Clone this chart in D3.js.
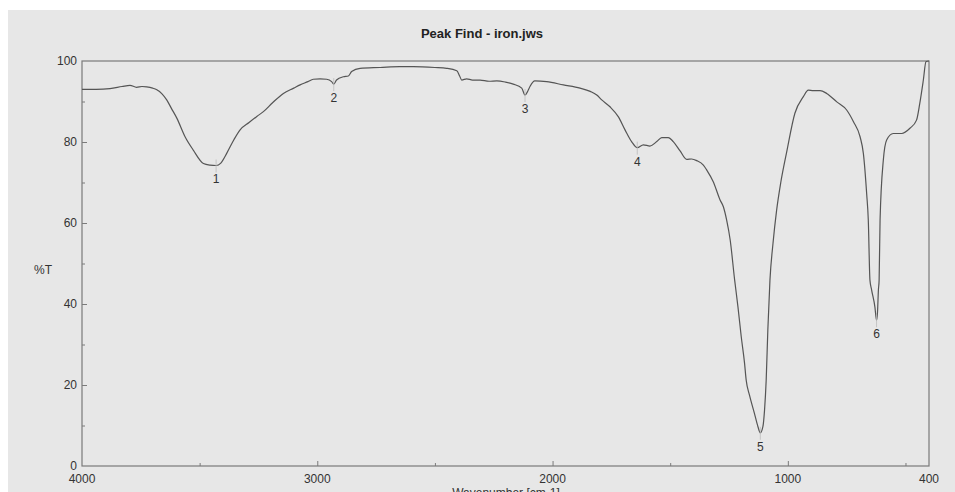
<!DOCTYPE html>
<html>
<head>
<meta charset="utf-8">
<script src="https://cdn.jsdelivr.net/npm/d3@7"></script>
<style>
  html, body { margin: 0; padding: 0; background: #fff; }
  svg { display: block; font-family: "Liberation Sans", Arial, sans-serif; }
</style>
</head>
<body>
<div id="chart"></div>
<script>
// IR spectrum (wavenumber cm-1, %T)
const wavenumber = [4000, 3940, 3881, 3830, 3796, 3768, 3745, 3725, 3700, 3682, 3660, 3640, 3620, 3597, 3562, 3527, 3484, 3456, 3430, 3410, 3385, 3355, 3328, 3290, 3257, 3229, 3190, 3144, 3100, 3073, 3040, 3017, 2988, 2960, 2939, 2930, 2918, 2889, 2868, 2854, 2818, 2733, 2650, 2592, 2500, 2450, 2407, 2395, 2386, 2365, 2340, 2308, 2270, 2237, 2200, 2167, 2131, 2117, 2105, 2096, 2075, 2025, 1954, 1883, 1840, 1812, 1791, 1756, 1720, 1692, 1664, 1640, 1614, 1586, 1557, 1536, 1508, 1487, 1458, 1430, 1409, 1387, 1359, 1345, 1317, 1288, 1274, 1260, 1245, 1226, 1212, 1198, 1184, 1177, 1163, 1142, 1127, 1117, 1106, 1099, 1092, 1085, 1076, 1063, 1048, 1030, 1005, 970, 934, 913, 892, 863, 835, 792, 750, 721, 693, 679, 665, 658, 651, 644, 630, 623, 619, 615, 612, 608, 594, 580, 552, 516, 481, 453, 439, 424, 413, 400];
const transmittance = [93.0, 93.0, 93.2, 93.7, 94.0, 93.5, 93.7, 93.6, 93.3, 92.9, 91.9, 90.4, 88.3, 85.9, 81.3, 78.0, 74.7, 74.3, 74.2, 74.8, 77.2, 80.5, 83.0, 84.8, 86.3, 87.5, 89.7, 92.0, 93.3, 94.1, 94.9, 95.5, 95.6, 95.5, 94.9, 94.3, 95.3, 96.1, 96.3, 97.4, 98.2, 98.4, 98.6, 98.6, 98.4, 98.2, 97.6, 96.3, 95.3, 95.6, 95.3, 95.3, 95.0, 95.1, 94.8, 94.3, 93.3, 91.6, 92.6, 93.7, 95.1, 94.9, 94.1, 93.3, 92.5, 91.6, 90.4, 88.7, 86.2, 83.0, 80.1, 78.6, 79.3, 79.0, 80.1, 81.1, 81.1, 80.1, 77.8, 75.7, 75.8, 75.4, 74.3, 73.1, 70.2, 65.7, 64.0, 60.7, 55.8, 45.9, 39.3, 31.9, 25.4, 21.2, 17.5, 13.0, 9.7, 8.2, 9.7, 13.8, 21.2, 33.6, 45.9, 55.0, 63.0, 70.0, 77.5, 87.1, 91.2, 92.8, 92.7, 92.7, 92.0, 89.9, 87.9, 85.0, 81.3, 77.2, 67.3, 60.7, 45.9, 43.5, 39.3, 36.0, 37.8, 43.5, 45.9, 60.7, 75.6, 80.5, 82.1, 82.1, 83.4, 85.4, 89.6, 95.3, 99.8, 100];

const peakLabels = ["1", "2", "3", "4", "5", "6"];
const peakWavenumber = [3430, 2930, 2117, 1640, 1117, 623];

const xTicks = [4000, 3000, 2000, 1000, 400];
const xMinorTicks = [3500, 2500, 1500, 500];
const yTicks = [0, 20, 40, 60, 80, 100];
const yMinorTicks = [10, 30, 50, 70, 90];

const W = 955, H = 492;
const plotLeft = 82, plotRight = 929, plotTop = 61, plotBottom = 466;
const axisColor = "#7a7a7a";

const svg = d3.select("#chart").append("svg")
    .attr("width", W)
    .attr("height", H);

// photographed paper: white border, grey sheet
svg.append("rect").attr("x", 0).attr("y", 0).attr("width", W).attr("height", H).attr("fill", "#ffffff");
svg.append("rect").attr("x", 8).attr("y", 10).attr("width", W - 8).attr("height", H - 10).attr("fill", "#e7e7e7");

const x = d3.scaleLinear().domain([4000, 400]).range([plotLeft, plotRight]);
const y = d3.scaleLinear().domain([0, 100]).range([plotBottom, plotTop]);

svg.append("text")
    .attr("x", 482)
    .attr("y", 37.5)
    .attr("text-anchor", "middle")
    .style("font-size", "13px")
    .style("font-weight", "bold")
    .attr("fill", "#222")
    .text("Peak Find - iron.jws");

// frame
svg.append("rect")
    .attr("x", plotLeft).attr("y", plotTop)
    .attr("width", plotRight - plotLeft).attr("height", plotBottom - plotTop)
    .attr("fill", "none")
    .attr("stroke", axisColor)
    .attr("stroke-width", 1.2);

// ticks point inward like the instrument printout
svg.append("g")
    .attr("transform", `translate(0,${plotBottom})`)
    .call(d3.axisTop(x).tickValues(xTicks.filter(d => d !== 4000 && d !== 400)).tickSize(5).tickFormat(""))
    .select(".domain").remove();
svg.append("g")
    .attr("transform", `translate(0,${plotBottom})`)
    .call(d3.axisTop(x).tickValues(xMinorTicks).tickSize(3).tickFormat(""))
    .select(".domain").remove();

svg.append("g")
    .attr("transform", `translate(${plotLeft},0)`)
    .call(d3.axisRight(y).tickValues(yTicks.filter(d => d > 0 && d < 100)).tickSize(5).tickFormat(""))
    .select(".domain").remove();
svg.append("g")
    .attr("transform", `translate(${plotLeft},0)`)
    .call(d3.axisRight(y).tickValues(yMinorTicks).tickSize(3).tickFormat(""))
    .select(".domain").remove();

svg.selectAll(".tick line").attr("stroke", axisColor);

// tick labels
svg.selectAll(".xlab")
    .data(xTicks)
    .enter().append("text")
    .attr("x", d => x(d))
    .attr("y", plotBottom + 17)
    .attr("text-anchor", "middle")
    .style("font-size", "12px")
    .attr("fill", "#333")
    .text(d => d);

svg.selectAll(".ylab")
    .data(yTicks)
    .enter().append("text")
    .attr("x", plotLeft - 5)
    .attr("y", d => y(d) + 4)
    .attr("text-anchor", "end")
    .style("font-size", "12px")
    .attr("fill", "#333")
    .text(d => d);

svg.append("text")
    .attr("x", 43)
    .attr("y", 274)
    .attr("text-anchor", "middle")
    .style("font-size", "12px")
    .attr("fill", "#333")
    .text("%T");

// x title sits on the bottom edge, cut off as in the photo
svg.append("text")
    .attr("x", 506)
    .attr("y", 497)
    .attr("text-anchor", "middle")
    .style("font-size", "12px")
    .attr("fill", "#333")
    .text("Wavenumber [cm-1]");

// spectrum
const spectrum = wavenumber.map((w, i) => ({ w: w, t: transmittance[i] }));

const line = d3.line()
    .x(d => x(d.w))
    .y(d => y(d.t))
    .curve(d3.curveMonotoneX);

svg.append("path")
    .datum(spectrum)
    .attr("fill", "none")
    .attr("stroke", "#555")
    .attr("stroke-width", 1.2)
    .attr("d", line);

// peak markers
const peaks = peakWavenumber.map((w, i) => ({
    w: w,
    t: transmittance[wavenumber.indexOf(w)],
    label: peakLabels[i]
}));

svg.selectAll(".peak-tick")
    .data(peaks)
    .enter().append("line")
    .attr("x1", d => x(d.w)).attr("x2", d => x(d.w))
    .attr("y1", d => y(d.t) - 6)
    .attr("y2", d => y(d.t) + 7)
    .attr("stroke", "#bbb")
    .attr("stroke-width", 0.8);

svg.selectAll(".peak-label")
    .data(peaks)
    .enter().append("text")
    .attr("x", d => x(d.w))
    .attr("y", d => y(d.t) + 18)
    .attr("text-anchor", "middle")
    .style("font-size", "12px")
    .attr("fill", "#333")
    .text(d => d.label);
</script>
</body>
</html>
